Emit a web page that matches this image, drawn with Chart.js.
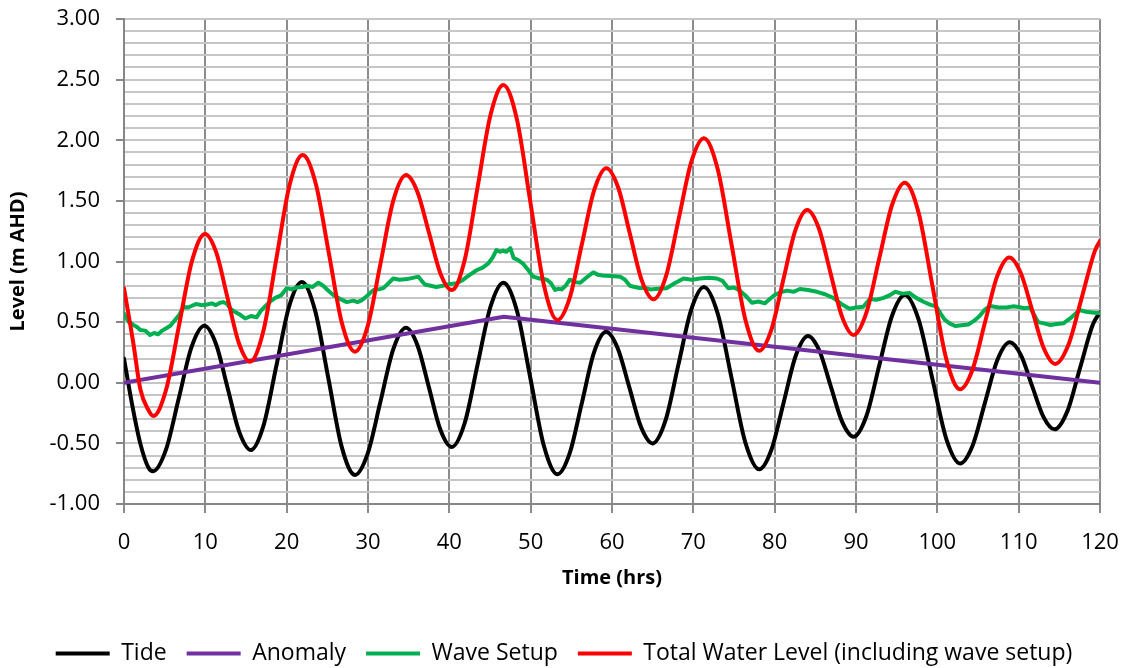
<!DOCTYPE html>
<html>
<head>
<meta charset="utf-8">
<script src="https://cdn.jsdelivr.net/npm/chart.js@4.4.1/dist/chart.umd.min.js"></script>
<style>
  html, body { margin: 0; padding: 0; background: #ffffff; }
  #wrap { width: 1131px; height: 668px; }
</style>
</head>
<body>
<div id="wrap"><canvas id="levelChart" width="1131" height="668"></canvas></div>
<script>
// values (hours, m AHD)
const tideHours = [0, 1, 2, 3, 3.57, 5.15, 6.73, 8.30, 9.88, 11.31, 12.74, 14.17, 15.6, 17.16, 18.73, 20.29, 21.85,
    23.49, 25.13, 26.76, 28.4, 29.97, 31.54, 33.10, 34.67, 36.08, 37.49, 38.89, 40.3, 41.89, 43.47, 45.06, 46.64,
    48.31, 49.97, 51.64, 53.3, 54.79, 56.29, 57.78, 59.27, 60.70, 62.14, 63.57, 65.0, 66.58, 68.15, 69.73, 71.3,
    73.0, 74.7, 76.4, 78.1, 79.6, 81.1, 82.6, 84.1, 85.5, 86.9, 88.3, 89.7, 91.28, 92.85, 94.43, 96.0,
    97.7, 99.4, 101.1, 102.8, 104.33, 105.85, 107.38, 108.9, 110.28, 111.65, 113.03, 114.4, 115.98, 117.55, 119.13, 120];
const tideLevel = [0.20, -0.18, -0.50, -0.70, -0.73, -0.554, -0.13, 0.294, 0.47, 0.32, -0.043, -0.405, -0.555, -0.352, 0.138, 0.627, 0.83,
    0.597, 0.035, -0.527, -0.76, -0.582, -0.153, 0.276, 0.454, 0.31, -0.038, -0.386, -0.53, -0.332, 0.148, 0.627, 0.825,
    0.594, 0.035, -0.524, -0.755, -0.583, -0.168, 0.248, 0.42, 0.285, -0.04, -0.365, -0.5, -0.311, 0.145, 0.601, 0.79,
    0.57, 0.038, -0.494, -0.714, -0.553, -0.164, 0.225, 0.386, 0.264, -0.03, -0.323, -0.445, -0.274, 0.14, 0.553, 0.724,
    0.521, 0.03, -0.462, -0.665, -0.519, -0.166, 0.187, 0.333, 0.228, -0.026, -0.279, -0.384, -0.236, 0.123, 0.482, 0.58];

const anomalyHours = [0, 46.7, 120];
const anomalyLevel = [0.0, 0.545, 0.0];

const waveHours = [0, 0.3, 0.6, 0.9, 1.15, 1.6, 2.0, 2.6, 3.2, 3.7, 4.2, 4.7, 5.2, 5.7, 6.3, 6.8, 7.3, 7.8, 8.3, 8.9,
    9.5, 10.2, 10.8, 11.3, 11.8, 12.2, 12.6, 13.1, 13.6, 14.3, 14.9, 15.6, 16.3, 16.8, 17.3, 18.0, 18.6, 19.3,
    20.0, 20.6, 21.2, 21.9, 22.5, 23.2, 23.9, 24.5, 25.1, 25.8, 26.6, 27.4, 28.2, 28.7, 29.2, 29.6, 30.0, 30.4,
    30.7, 31.3, 31.9, 32.5, 33.1, 33.9, 34.8, 35.5, 36.2, 36.6, 37.0, 37.7, 38.4, 39.2, 40.1, 40.9, 41.7, 42.5,
    43.4, 44.1, 44.8, 45.3, 45.8, 46.2, 46.6, 47.0, 47.5, 47.9, 48.5, 49.1, 49.7, 50.3, 51.1, 52.0, 52.5, 53.0,
    53.4, 53.8, 54.3, 54.8, 55.5, 56.1, 56.9, 57.7, 58.3, 58.8, 59.9, 61.0, 61.6, 62.2, 62.8, 63.4, 64.0, 64.7,
    65.7, 66.7, 67.7, 68.8, 69.8, 70.8, 71.9, 72.9, 73.6, 74.3, 75.0, 75.7, 76.4, 77.2, 78.0, 78.8, 79.4, 80.0,
    80.7, 81.5, 82.3, 83.1, 84.1, 85.2, 86.2, 87.2, 88.2, 89.2, 90.0, 90.9, 91.3, 91.7, 92.5, 93.4, 94.1, 94.8,
    95.7, 96.6, 97.4, 98.3, 99.1, 99.9, 100.4, 100.9, 101.5, 102.2, 103.0, 103.8, 104.5, 105.2, 105.8, 106.5,
    107.5, 108.5, 109.3, 110.0, 110.7, 111.4, 111.9, 112.4, 113.1, 113.9, 114.7, 115.5, 116.5, 117.5, 118.3, 119.0, 120];
const waveLevel = [0.57, 0.53, 0.50, 0.49, 0.476, 0.46, 0.435, 0.43, 0.394, 0.41, 0.40, 0.43, 0.45, 0.47, 0.52, 0.56, 0.627, 0.62, 0.633, 0.65,
    0.64, 0.645, 0.655, 0.64, 0.66, 0.665, 0.655, 0.61, 0.586, 0.56, 0.53, 0.55, 0.54, 0.59, 0.627, 0.67, 0.70, 0.72,
    0.78, 0.77, 0.785, 0.79, 0.80, 0.79, 0.825, 0.80, 0.76, 0.72, 0.69, 0.665, 0.677, 0.665, 0.68, 0.70, 0.724, 0.75,
    0.765, 0.77, 0.78, 0.82, 0.86, 0.85, 0.855, 0.865, 0.875, 0.84, 0.81, 0.80, 0.79, 0.80, 0.815, 0.82, 0.85, 0.89,
    0.93, 0.95, 0.985, 1.03, 1.095, 1.08, 1.09, 1.08, 1.11, 1.03, 1.01, 0.98, 0.93, 0.875, 0.86, 0.85, 0.82, 0.765,
    0.775, 0.77, 0.80, 0.85, 0.83, 0.825, 0.87, 0.91, 0.89, 0.885, 0.88, 0.875, 0.85, 0.80, 0.79, 0.78, 0.785, 0.77,
    0.775, 0.78, 0.82, 0.86, 0.85, 0.86, 0.865, 0.86, 0.84, 0.78, 0.785, 0.76, 0.72, 0.66, 0.67, 0.655, 0.69, 0.724,
    0.745, 0.76, 0.75, 0.773, 0.765, 0.75, 0.73, 0.70, 0.65, 0.61, 0.62, 0.627, 0.66, 0.69, 0.685, 0.70, 0.72, 0.75,
    0.735, 0.74, 0.70, 0.668, 0.645, 0.627, 0.57, 0.52, 0.49, 0.468, 0.475, 0.48, 0.51, 0.55, 0.60, 0.633,
    0.62, 0.62, 0.63, 0.625, 0.615, 0.62, 0.56, 0.50, 0.49, 0.476, 0.485, 0.49, 0.54, 0.60, 0.585, 0.58, 0.573];

const totalHours = [0, 1.15, 2.0, 3.0, 3.6, 5.19, 6.78, 8.37, 9.96, 11.35, 12.73, 14.12, 15.5, 17.12, 18.74, 20.35, 21.97,
    23.58, 25.19, 26.79, 28.4, 29.97, 31.54, 33.10, 34.67, 36.08, 37.49, 38.89, 40.3, 41.89, 43.47, 45.06, 46.64,
    48.31, 49.97, 51.64, 53.3, 54.8, 56.3, 57.8, 59.3, 60.75, 62.2, 63.65, 65.1, 66.65, 68.2, 69.75, 71.3,
    73.0, 74.7, 76.4, 78.1, 79.58, 81.05, 82.53, 84.0, 85.43, 86.85, 88.28, 89.7, 91.28, 92.85, 94.43, 96.0,
    97.7, 99.4, 101.1, 102.8, 104.31, 105.83, 107.34, 108.85, 110.26, 111.68, 113.09, 114.5, 116.13, 117.75, 119.38, 120];
const totalLevel = [0.78, 0.325, -0.05, -0.225, -0.274, -0.054, 0.477, 1.007, 1.227, 1.073, 0.70, 0.328, 0.174, 0.423, 1.026, 1.629, 1.878,
    1.641, 1.067, 0.493, 0.256, 0.469, 0.985, 1.50, 1.713, 1.574, 1.239, 0.904, 0.765, 1.013, 1.611, 2.208, 2.456,
    2.172, 1.487, 0.801, 0.517, 0.70, 1.144, 1.587, 1.77, 1.612, 1.229, 0.846, 0.688, 0.882, 1.352, 1.822, 2.016,
    1.76, 1.14, 0.52, 0.264, 0.434, 0.845, 1.255, 1.425, 1.274, 0.91, 0.545, 0.394, 0.578, 1.022, 1.466, 1.65,
    1.401, 0.798, 0.195, -0.054, 0.105, 0.49, 0.875, 1.034, 0.905, 0.595, 0.284, 0.155, 0.315, 0.70, 1.09, 1.17];

const FONT = "'Open Sans', sans-serif";

function pairs(xs, ys) {
    return xs.map((x, i) => ({ x: x, y: ys[i] }));
}

function isHalf(v) {
    return Math.abs(v * 2 - Math.round(v * 2)) < 1e-6;
}

// fix the legend box height and nudge it right, the original legend sits off-centre
const legendTweak = {
    id: 'legendTweak',
    afterInit(chart) {
        const legend = chart.legend;
        const fit = legend.fit;
        const draw = legend.draw;
        legend.fit = function () {
            fit.call(this);
            this.height = 46;
        };
        legend.draw = function () {
            const ctx = this.ctx;
            ctx.save();
            ctx.translate(14, 0);
            draw.call(this);
            ctx.restore();
        };
    }
};

// later series on top, like the original: so total first, legend reversed
const datasets = [
    { label: 'Total Water Level (including wave setup)', data: pairs(totalHours, totalLevel),
      borderColor: '#ff0000', backgroundColor: '#ff0000', borderWidth: 4, cubicInterpolationMode: 'monotone' },
    { label: 'Wave Setup', data: pairs(waveHours, waveLevel),
      borderColor: '#00b050', backgroundColor: '#00b050', borderWidth: 4, tension: 0 },
    { label: 'Anomaly', data: pairs(anomalyHours, anomalyLevel),
      borderColor: '#7030a0', backgroundColor: '#7030a0', borderWidth: 4, tension: 0 },
    { label: 'Tide', data: pairs(tideHours, tideLevel),
      borderColor: '#000000', backgroundColor: '#000000', borderWidth: 4, cubicInterpolationMode: 'monotone' }
];

new Chart(document.getElementById('levelChart'), {
    type: 'line',
    data: { datasets: datasets },
    options: {
        responsive: false,
        animation: false,
        devicePixelRatio: 1,
        layout: { padding: { left: 0, right: 31, top: 19, bottom: 0 } },
        elements: {
            point: { radius: 0 },
            line: { borderCapStyle: 'round', borderJoinStyle: 'round' }
        },
        plugins: {
            tooltip: { enabled: false },
            legend: {
                position: 'bottom',
                reverse: true,
                labels: {
                    color: '#000000',
                    font: { family: FONT, size: 23 },
                    boxWidth: 54,
                    boxHeight: 4,
                    padding: 20,
                    generateLabels: function (chart) {
                        return Chart.defaults.plugins.legend.labels.generateLabels(chart)
                            .map(item => Object.assign(item, { lineWidth: 0 }));
                    }
                }
            }
        },
        scales: {
            x: {
                type: 'linear',
                min: 0,
                max: 120,
                afterFit: function (scale) {
                    scale.height = 118;
                    scale.paddingLeft = 10;
                    scale.paddingRight = 10;
                },
                ticks: { stepSize: 10, color: '#000000', padding: 17, maxRotation: 0,
                         font: { family: FONT, size: 22 } },
                grid: { color: '#8c8c8c', lineWidth: 2, tickLength: 9, tickColor: '#8c8c8c' },
                border: { color: '#868686', width: 2 },
                title: { display: true, text: 'Time (hrs)', color: '#000000',
                         font: { family: FONT, size: 20, weight: 'bold' },
                         padding: { top: 0, bottom: 32 } }
            },
            y: {
                min: -1,
                max: 3,
                afterFit: function (scale) {
                    scale.width = 124;
                    // label padding should not push the plot area down
                    scale.paddingTop = 8;
                    scale.paddingBottom = 8;
                },
                ticks: {
                    stepSize: 0.1,
                    autoSkip: false,
                    color: '#000000',
                    padding: 16,
                    font: { family: FONT, size: 22 },
                    callback: function (v) { return isHalf(v) ? v.toFixed(2) : ''; }
                },
                grid: {
                    color: '#c6c6c6',
                    lineWidth: 2,
                    tickLength: 8,
                    tickColor: function (ctx) {
                        return ctx.tick && isHalf(ctx.tick.value) ? '#868686' : 'rgba(0,0,0,0)';
                    }
                },
                border: { color: '#868686', width: 2 },
                title: { display: true, text: 'Level (m AHD)', color: '#000000',
                         font: { family: FONT, size: 20, weight: 'bold' },
                         padding: { top: 6, bottom: 0 } }
            }
        }
    },
    plugins: [legendTweak]
});
</script>
</body>
</html>
